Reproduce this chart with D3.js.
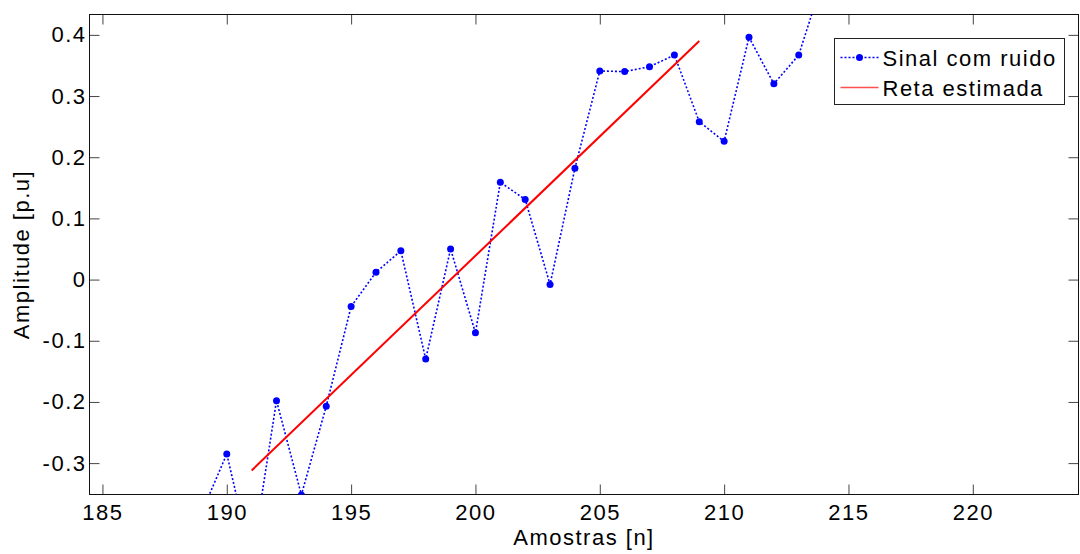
<!DOCTYPE html>
<html>
<head>
<meta charset="utf-8">
<script src="https://cdn.jsdelivr.net/npm/d3@7"></script>
<style>
  body { margin: 0; background: #fff; }
  svg text { font-family: "Liberation Sans", Arial, sans-serif; letter-spacing: 1.5px; }
</style>
</head>
<body>
<div class="chart"></div>
<script>
// Data.
let amostras = [189, 190, 191, 192, 193, 194, 195, 196, 197, 198, 199, 200, 201,
                202, 203, 204, 205, 206, 207, 208, 209, 210, 211, 212, 213, 214];
let sinal = [-0.38, -0.285, -0.46, -0.198, -0.352, -0.207, -0.044, 0.012, 0.047, -0.130,
             0.050, -0.087, 0.159, 0.131, -0.008, 0.182, 0.341, 0.340, 0.348, 0.367,
             0.258, 0.226, 0.396, 0.320, 0.367, 0.494];
let retaX = [191, 209];
let retaY = [-0.312, 0.390];
let xTicks = [185, 190, 195, 200, 205, 210, 215, 220];
let yTicks = [-0.3, -0.2, -0.1, 0, 0.1, 0.2, 0.3, 0.4];

// Build constants.
let width = 1080,
    height = 554,
    margin = {top: 14.5, right: 1.5, bottom: 59.5, left: 89.5},
    tickLen = 10,
    fontSize = 22;

let svg = d3.select('.chart')
    .append('svg')
        .attr('width', width)
        .attr('height', height);

let x = d3.scaleLinear()
    .domain([184.48, 224.25])
    .range([margin.left, width - margin.right]);

let y = d3.scaleLinear()
    .domain([-0.3513, 0.4333])
    .range([height - margin.bottom, margin.top]);

svg.append('clipPath')
    .attr('id', 'plot')
    .append('rect')
        .attr('x', margin.left)
        .attr('y', margin.top)
        .attr('width', width - margin.left - margin.right)
        .attr('height', height - margin.top - margin.bottom);

// Axes (ticks inside, mirrored on top / right).
let fmt = d => d === 0 ? '0' : d3.format('.1f')(d).replace('−', '-');

let styleText = g => g.selectAll('text')
    .attr('font-size', fontSize)
    .attr('fill', '#000');

svg.append('g')
    .attr('transform', `translate(0, ${height - margin.bottom})`)
    .call(d3.axisBottom(x).tickValues(xTicks).tickSizeInner(-tickLen).tickSizeOuter(0).tickPadding(10))
    .call(g => g.select('.domain').remove())
    .call(styleText);

svg.append('g')
    .attr('transform', `translate(0, ${margin.top})`)
    .call(d3.axisTop(x).tickValues(xTicks).tickSizeInner(-tickLen).tickSizeOuter(0).tickFormat(''))
    .call(g => g.select('.domain').remove());

svg.append('g')
    .attr('transform', `translate(${margin.left}, 0)`)
    .call(d3.axisLeft(y).tickValues(yTicks).tickSizeInner(-tickLen).tickSizeOuter(0).tickPadding(3).tickFormat(fmt))
    .call(g => g.select('.domain').remove())
    .call(styleText);

svg.append('g')
    .attr('transform', `translate(${width - margin.right}, 0)`)
    .call(d3.axisRight(y).tickValues(yTicks).tickSizeInner(-tickLen).tickSizeOuter(0).tickFormat(''))
    .call(g => g.select('.domain').remove());

svg.selectAll('.tick line').attr('stroke', '#444');

// Frame.
svg.append('rect')
    .attr('x', margin.left)
    .attr('y', margin.top)
    .attr('width', width - margin.left - margin.right)
    .attr('height', height - margin.top - margin.bottom)
    .attr('fill', 'none')
    .attr('stroke', '#111')
    .attr('stroke-width', 1);

// Series.
let plot = svg.append('g').attr('clip-path', 'url(#plot)');

let sinalLine = d3.line()
    .x((d, i) => x(amostras[i]))
    .y(d => y(d));

plot.append('path')
    .datum(sinal)
    .attr('d', sinalLine)
    .attr('fill', 'none')
    .attr('stroke', '#0000ff')
    .attr('stroke-width', 1.6)
    .attr('stroke-dasharray', '2,2');

plot.selectAll('circle')
    .data(sinal)
    .join('circle')
        .attr('cx', (d, i) => x(amostras[i]))
        .attr('cy', d => y(d))
        .attr('r', 3.5)
        .attr('fill', '#0000ff');

let retaLine = d3.line()
    .x((d, i) => x(retaX[i]))
    .y(d => y(d));

plot.append('path')
    .datum(retaY)
    .attr('d', retaLine)
    .attr('fill', 'none')
    .attr('stroke', '#ff0000')
    .attr('stroke-width', 2);

// Axis titles.
svg.append('text')
    .attr('x', 584)
    .attr('y', 545)
    .attr('text-anchor', 'middle')
    .attr('font-size', fontSize)
    .text('Amostras [n]');

svg.append('text')
    .attr('transform', `translate(29, ${(margin.top + height - margin.bottom) / 2}) rotate(-90)`)
    .attr('text-anchor', 'middle')
    .attr('font-size', fontSize)
    .text('Amplitude [p.u]');

// Legend.
let legend = svg.append('g').attr('transform', 'translate(834.5, 38.5)');

legend.append('rect')
    .attr('width', 230)
    .attr('height', 66)
    .attr('fill', '#fff')
    .attr('stroke', '#222');

legend.append('line')
    .attr('x1', 6).attr('x2', 44)
    .attr('y1', 19).attr('y2', 19)
    .attr('stroke', '#0000ff')
    .attr('stroke-width', 1.6)
    .attr('stroke-dasharray', '2,2');

legend.append('circle')
    .attr('cx', 25).attr('cy', 19)
    .attr('r', 3.5)
    .attr('fill', '#0000ff');

legend.append('line')
    .attr('x1', 6).attr('x2', 44)
    .attr('y1', 49).attr('y2', 49)
    .attr('stroke', '#ff5050')
    .attr('stroke-width', 1.5);

legend.selectAll('text')
    .data(['Sinal com ruido', 'Reta estimada'])
    .join('text')
        .attr('x', 48)
        .attr('y', (d, i) => 27 + i * 30)
        .attr('font-size', fontSize)
        .text(d => d);
</script>
</body>
</html>
